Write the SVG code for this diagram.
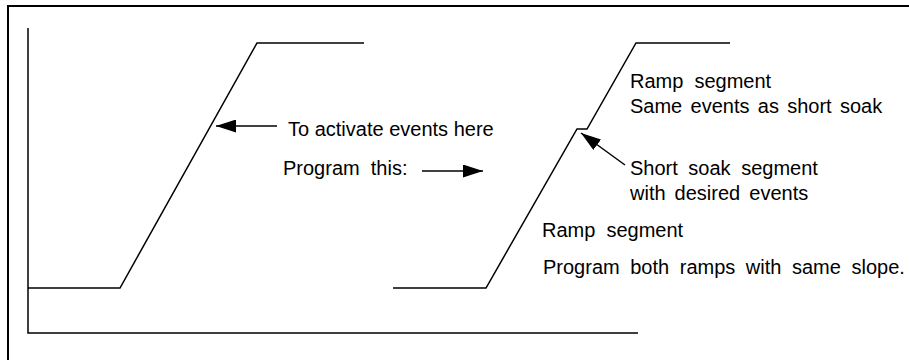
<svg xmlns="http://www.w3.org/2000/svg" width="909" height="360" viewBox="0 0 909 360">
<defs>
<style>
.ln{fill:none;stroke:#000;stroke-width:1.5}
.t{font-family:"Liberation Sans",Arial,sans-serif;font-size:20px;fill:#000}
</style>
<marker id="ah" viewBox="0 0 20 13" refX="20" refY="6.5" markerWidth="20" markerHeight="13" markerUnits="userSpaceOnUse" orient="auto">
<path d="M0,0 L20,6.5 L0,13 Z" fill="#000"/>
</marker>
</defs>
<rect width="909" height="360" fill="#fff"/>
<g id="frame"><rect x="8" y="6" width="1000" height="400" fill="none" stroke="#000" stroke-width="2"/></g>
<g id="axes"><path class="ln" d="M28,28 V333 H638"/></g>
<g id="profile-left"><path class="ln" d="M28,288 H120 L257,43 H364"/></g>
<g id="profile-right"><path class="ln" d="M393,288 H486 L577,129 H587 L636,43 H730"/></g>
<g id="connectors">
<line class="ln" x1="277" y1="126" x2="216" y2="126" marker-end="url(#ah)"/>
<line class="ln" x1="422" y1="171" x2="483" y2="171" marker-end="url(#ah)"/>
<line class="ln" x1="625" y1="165" x2="581" y2="133" marker-end="url(#ah)"/>
</g>
<g id="labels">
<text class="t" x="288" y="136">To activate events here</text>
<text class="t" x="283" y="175" xml:space="preserve">Program  this:</text>
<text class="t" x="630" y="88" xml:space="preserve">Ramp  segment</text>
<text class="t" x="630" y="113" word-spacing="2.75">Same events as short soak</text>
<text class="t" x="630" y="175" word-spacing="5">Short soak segment</text>
<text class="t" x="630" y="200" word-spacing="3.5">with desired events</text>
<text class="t" x="542" y="237" xml:space="preserve">Ramp  segment</text>
<text class="t" x="543" y="274" word-spacing="5">Program both ramps with same slope.</text>
</g>
</svg>
